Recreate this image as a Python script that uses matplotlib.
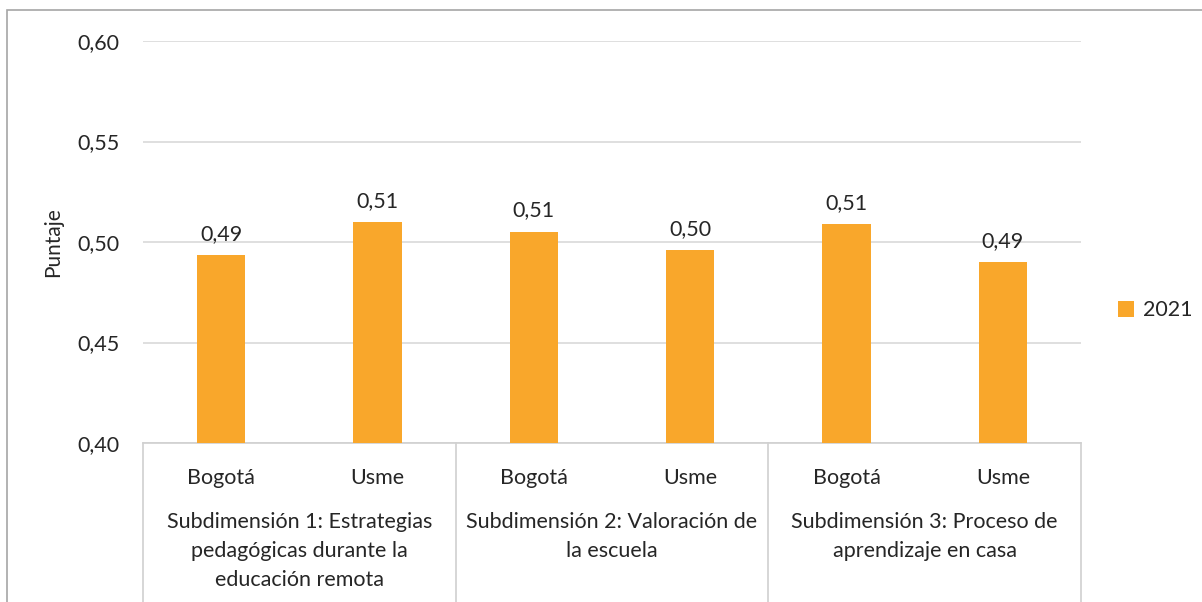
import matplotlib.pyplot as plt
from matplotlib.patches import Rectangle
from matplotlib.transforms import blended_transform_factory

plt.rcParams['font.family'] = ['Lato', 'DejaVu Sans']

# datos
lugares = ['Bogotá', 'Usme', 'Bogotá', 'Usme', 'Bogotá', 'Usme']
subdimensiones = ['Subdimensión 1: Estrategias\npedagógicas durante la\neducación remota',
                  'Subdimensión 2: Valoración de\nla escuela',
                  'Subdimensión 3: Proceso de\naprendizaje en casa']
puntajes_2021 = [0.4935, 0.510, 0.5052, 0.496, 0.509, 0.490]
serie = '2021'

color_barra = '#F9A72B'
color_texto = '#262626'
fs = 15.5

fig = plt.figure(figsize=(12.02, 6.02), dpi=100)
ax = fig.add_axes([0.119, 0.2641, 0.7804, 0.6678])

x = [i + 0.5 for i in range(len(puntajes_2021))]
barras = ax.bar(x, puntajes_2021, width=0.31, color=color_barra, label=serie, zorder=3)

for xi, v in zip(x, puntajes_2021):
    ax.annotate(f'{v:.2f}'.replace('.', ','), (xi, v), xytext=(0, 8),
                textcoords='offset points', ha='center', va='bottom',
                fontsize=fs, color=color_texto)

ax.set_xlim(0, len(puntajes_2021))
ax.set_ylim(0.40, 0.60)
yt = [0.40, 0.45, 0.50, 0.55, 0.60]
ax.set_yticks(yt)
ax.set_yticklabels([f'{t:.2f}'.replace('.', ',') for t in yt], fontsize=fs, color=color_texto)
ax.tick_params(axis='y', length=0, pad=17)
ax.yaxis.grid(True, color='#D9D9D9', linewidth=1.2, zorder=0)

ax.set_xticks(x)
ax.set_xticklabels(lugares, fontsize=fs, color=color_texto)
ax.tick_params(axis='x', length=0, pad=18)

for s in ['top', 'right', 'left']:
    ax.spines[s].set_visible(False)
ax.spines['bottom'].set_color('#D0D0D0')
ax.spines['bottom'].set_linewidth(1.2)

ax.set_ylabel('Puntaje', fontsize=15, color=color_texto, labelpad=10)

# separadores y etiquetas de subdimensión
trans = blended_transform_factory(ax.transData, ax.transAxes)
for g in range(4):
    ax.plot([2 * g, 2 * g], [0, -0.42], transform=trans, color='#D0D0D0',
            linewidth=1.2, clip_on=False)
for g, nombre in enumerate(subdimensiones):
    ax.text(2 * g + 1, -0.172, nombre, transform=trans, ha='center', va='top',
            fontsize=fs, color=color_texto, linespacing=1.56)

leg = ax.legend(loc='center left', bbox_to_anchor=(1.03, 0.33), frameon=False,
                fontsize=fs, handlelength=0.75, handleheight=0.75, handletextpad=0.4,
                borderaxespad=0)
for t in leg.get_texts():
    t.set_color(color_texto)

# marco del gráfico
fig.patches.append(Rectangle((7 / 1202, -0.05), 1.1, 0.05 + (602 - 10) / 602,
                             transform=fig.transFigure, fill=False,
                             edgecolor='#A6A6A6', linewidth=1.2))

fig.savefig('out.png', dpi=100)
